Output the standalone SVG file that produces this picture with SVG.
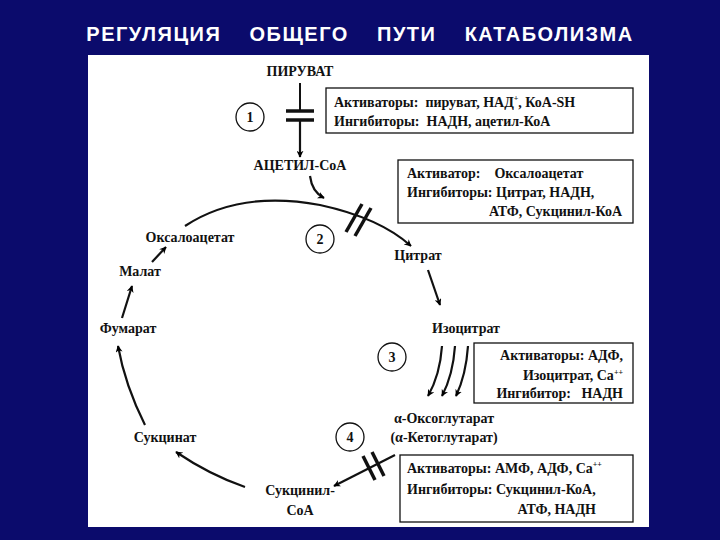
<svg xmlns="http://www.w3.org/2000/svg" width="720" height="540" viewBox="0 0 720 540">
<defs>
<marker id="ah" viewBox="0 0 10 10" refX="9" refY="5" markerWidth="7" markerHeight="7" orient="auto" markerUnits="userSpaceOnUse"><path d="M0,0 L10,5 L0,10 L3,5 Z" fill="#000"/></marker>
<style>
.t{font-family:"Liberation Serif",serif;font-weight:bold;font-size:14px;fill:#111}
.b{fill:#fff;stroke:#111;stroke-width:1.3}
.ln{stroke:#111;stroke-width:2.2;fill:none;marker-end:url(#ah)}
.bar{stroke:#111;stroke-width:3.5}
</style>
</defs>
<rect width="720" height="540" fill="#0b0b6c"/>
<text x="360" y="41" text-anchor="middle" font-family="Liberation Sans,sans-serif" font-weight="bold" font-size="20" letter-spacing="1.5" fill="#fff" xml:space="preserve">РЕГУЛЯЦИЯ    ОБЩЕГО    ПУТИ    КАТАБОЛИЗМА</text>
<rect x="88" y="55" width="561" height="472" fill="#fff"/>
<g id="connectors">
<line x1="300" y1="83" x2="300" y2="111" stroke="#111" stroke-width="2"/>
<line x1="286" y1="111" x2="314" y2="111" class="bar"/>
<line x1="286" y1="120" x2="314" y2="120" class="bar"/>
<line x1="300" y1="120" x2="300" y2="157" class="ln"/>
<path d="M310,176 Q312,192 324,198" class="ln"/>
<path d="M185,226 Q240,190 320,205 Q380,218 411,246" class="ln"/>
<line x1="346" y1="232" x2="362" y2="204" class="bar" stroke-width="2.5"/>
<line x1="355" y1="236" x2="371" y2="208" class="bar" stroke-width="2.5"/>
<line x1="152" y1="262" x2="166" y2="247" class="ln"/>
<line x1="122" y1="318" x2="132" y2="286" class="ln"/>
<line x1="428" y1="270" x2="440" y2="305" class="ln"/>
<path d="M442,346 Q440,375 428,396" class="ln"/>
<path d="M455,346 Q453,375 442,396" class="ln"/>
<path d="M468,346 Q466,375 456,396" class="ln"/>
<line x1="395" y1="455" x2="334" y2="486" class="ln"/>
<line x1="372" y1="452" x2="384" y2="476" class="bar" stroke-width="2.5"/>
<line x1="363" y1="456" x2="375" y2="480" class="bar" stroke-width="2.5"/>
<path d="M245,487 Q210,475 176,452" class="ln"/>
<path d="M145,425 Q125,385 118,346" class="ln"/>
</g>
<g id="n-piruvat"><text class="t" x="300" y="76" text-anchor="middle" font-size="15">ПИРУВАТ</text></g>
<g id="n-1"><circle cx="250" cy="117" r="14" class="b" stroke-width="1.8"/><text class="t" x="250" y="122" text-anchor="middle">1</text></g>
<g id="box1"><rect x="326" y="88" width="307" height="45" class="b"/>
<text class="t" x="334" y="107" xml:space="preserve">Активаторы:  пируват, НАД<tspan font-size="8" dy="-6">+</tspan><tspan dy="6">, КоА-SH</tspan></text>
<text class="t" x="334" y="126" xml:space="preserve">Ингибиторы:  НАДН, ацетил-КоА</text></g>
<g id="n-acetyl"><text class="t" x="300" y="170" text-anchor="middle">АЦЕТИЛ-CoA</text></g>
<g id="box2"><rect x="398" y="160" width="235" height="63" class="b"/>
<text class="t" x="407" y="178" xml:space="preserve">Активатор:    Оксалоацетат</text>
<text class="t" x="407" y="197">Ингибиторы: Цитрат, НАДН,</text>
<text class="t" x="622" y="216" text-anchor="end">АТФ, Сукцинил-КоА</text></g>
<g id="n-2"><circle cx="320" cy="239" r="14" class="b" stroke-width="1.8"/><text class="t" x="320" y="244" text-anchor="middle">2</text></g>
<g id="n-oxalo"><text class="t" x="190" y="242" text-anchor="middle">Оксалоацетат</text></g>
<g id="n-citrat"><text class="t" x="418" y="260" text-anchor="middle">Цитрат</text></g>
<g id="n-malat"><text class="t" x="140" y="276" text-anchor="middle">Малат</text></g>
<g id="n-fumarat"><text class="t" x="128" y="333" text-anchor="middle">Фумарат</text></g>
<g id="n-isocitrat"><text class="t" x="466" y="333" text-anchor="middle">Изоцитрат</text></g>
<g id="n-3"><circle cx="392" cy="357" r="14" class="b" stroke-width="1.8"/><text class="t" x="392" y="362" text-anchor="middle">3</text></g>
<g id="box3"><rect x="474" y="343" width="159" height="60" class="b"/>
<text class="t" x="623" y="360" text-anchor="end">Активаторы: АДФ,</text>
<text class="t" x="623" y="380" text-anchor="end">Изоцитрат, Ca<tspan font-size="8" dy="-5">++</tspan></text>
<text class="t" x="623" y="398" text-anchor="end" xml:space="preserve">Ингибитор:   НАДН</text></g>
<g id="n-oxoglut"><text class="t" x="444" y="423" text-anchor="middle">α-Оксоглутарат</text><text class="t" x="444" y="442" text-anchor="middle">(α-Кетоглутарат)</text></g>
<g id="n-4"><circle cx="350" cy="437" r="14" class="b" stroke-width="1.8"/><text class="t" x="350" y="442" text-anchor="middle">4</text></g>
<g id="n-succinat"><text class="t" x="165" y="442" text-anchor="middle">Сукцинат</text></g>
<g id="box4"><rect x="400" y="455" width="233" height="67" class="b"/>
<text class="t" x="407" y="473">Активаторы: АМФ, АДФ, Ca<tspan font-size="8" dy="-6">++</tspan></text>
<text class="t" x="407" y="494">Ингибиторы: Сукцинил-КоА,</text>
<text class="t" x="596" y="514" text-anchor="end">АТФ, НАДН</text></g>
<g id="n-succoa"><text class="t" x="300" y="495" text-anchor="middle">Сукцинил-</text><text class="t" x="300" y="515" text-anchor="middle">CoA</text></g>
</svg>
